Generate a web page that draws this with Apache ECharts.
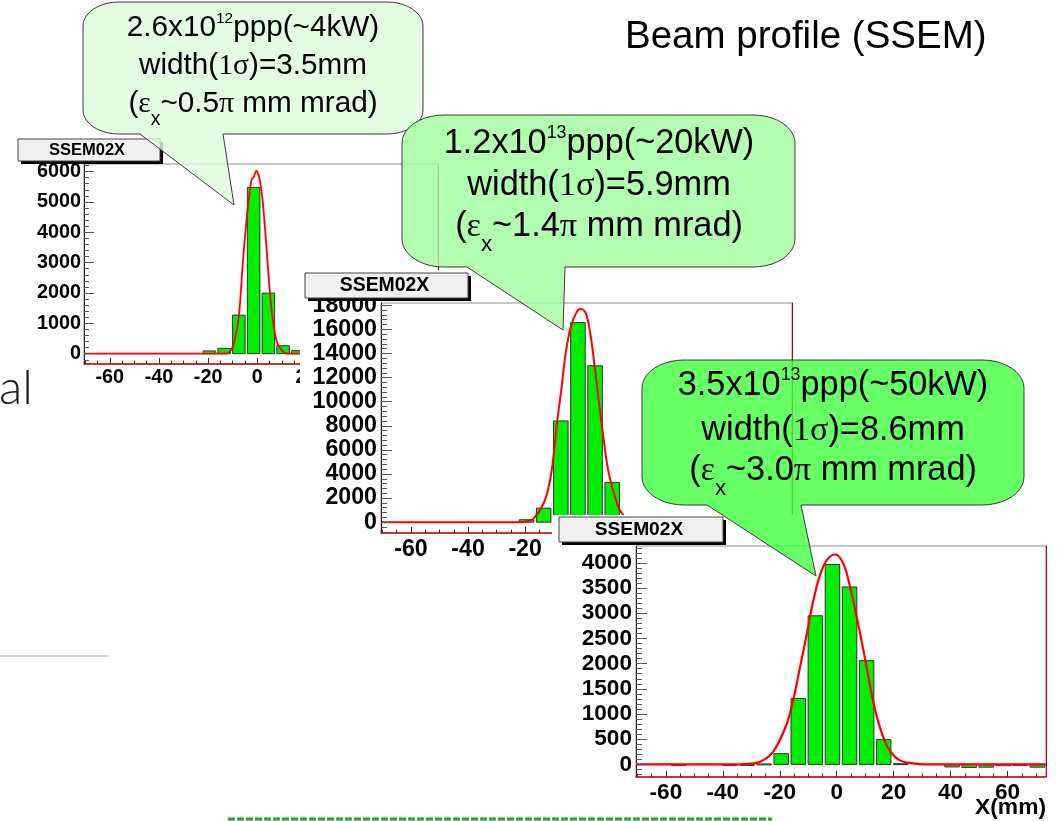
<!DOCTYPE html>
<html>
<head>
<meta charset="utf-8">
<title>Beam profile (SSEM)</title>
<script src="https://cdn.jsdelivr.net/npm/echarts@6.0.0/dist/echarts.min.js"></script>
<style>
  html, body { margin: 0; padding: 0; background: #fff; }
  #chart { width: 1059px; height: 821px; }
</style>
</head>
<body>
<div id="chart"></div>
<script>
// ---- data -------------------------------------------------------------
// SSEM strip centres (mm)
const stripX = [-67.5, -61.5, -55.5, -49.5, -43.5, -37.5, -31.5, -25.5, -19.5, -13.5, -7.5, -1.5,
                4.5, 10.5, 16.5, 22.5, 28.5, 34.5, 40.5, 46.5, 52.5, 58.5, 64.5, 70.5];

// Signal per strip for the three beam intensities
const countsLow  = [0, 0, 0, 0, 0, 0, 0, 0, 90, 175, 1270, 5480, 1995, 263, 100, 0, 0, 0, 0, 0, 0, 0, 0, 0];
const countsMid  = [0, 0, 0, 0, 0, 0, 0, 0, 200, 1165, 8400, 16560, 12980, 3300, 350, 30, 0, 0, 0, 0, 0, 0, 0, 0];
const countsHigh = [0, 0, -10, 0, 0, -8, -10, 10, 213, 1309, 2950, 3967, 3522, 2060, 492, 15, 0, 0, -50, -60, -55, -25, -10, -55];

// Gaussian fit curves
const fitLowX = [-70.5, -13, -11, -9.5, -7.5, -5.9, -4.1, -2.4, -1.4, -0.4, 0.7, 2.0, 3.4, 4.7, 6.1, 8.1, 10.8, 13, 73.5];
const fitLowY = [0, 0, 80, 350, 1230, 2980, 4630, 5720, 5830, 6030, 5830, 5175, 3860, 2430, 1230, 350, 45, 0, 0];

const fitMidX = [-70.5, -22, -19.5, -17.1, -13.6, -11.5, -10.1, -8.7, -7.2, -5.8, -4.0, -1.9, -0.4, 1.3, 3.0, 4.5, 5.9, 7.4, 9.1, 11.5, 13.2, 16, 18.5, 22, 73.5];
const fitMidY = [0, 0, 60, 277, 1525, 3189, 5407, 8458, 11231, 14004, 16222, 17470, 17692, 17331, 15390, 12617, 9844, 7071, 4298, 2080, 970, 250, 70, 0, 0];

const fitHighX = [-70.5, -36, -31.6, -26.9, -22.3, -17.6, -15.2, -12.9, -10.5, -8.2, -5.9, -3.5, -0.6, 2.3, 4.7, 7.0, 9.4, 11.7, 14.0, 16.4, 18.7, 22.2, 26.9, 31, 73.5];
const fitHighY = [0, 0, 13, 53, 252, 797, 1296, 1927, 2592, 3256, 3754, 4053, 4166, 3987, 3522, 2924, 2259, 1562, 963, 532, 266, 80, 20, 0, 0];

// Tick labels
const xMajorTicks = [-60, -40, -20, 0, 20, 40, 60];
const yMajorLow  = [0, 1000, 2000, 3000, 4000, 5000, 6000];
const yMajorMid  = [0, 2000, 4000, 6000, 8000, 10000, 12000, 14000, 16000, 18000];
const yMajorHigh = [0, 500, 1000, 1500, 2000, 2500, 3000, 3500, 4000];

// Beam conditions written in the callouts
const intensityMantissa = ['2.6', '1.2', '3.5'];
const intensityExponent = ['12', '13', '13'];
const beamPower = ['~4kW', '~20kW', '~50kW'];
const beamWidth = ['3.5', '5.9', '8.6'];
const emittance = ['0.5', '1.4', '3.0'];

const histTitle = 'SSEM02X';
const xTitle = 'X(mm)';
const pageTitle = 'Beam profile (SSEM)';
const sideText = 'al';

// ---- layout -----------------------------------------------------------
const SANS = 'Liberation Sans';
const SERIF = 'Liberation Serif';
const X_MIN = -70.5, X_MAX = 73.5;
const STRIP_FILL = 5.1;   // drawn bar width, mm

function ticksBetween(a, b, step) {
  const out = [];
  for (let v = a; v <= b + 1e-9; v += step) out.push(Math.round(v * 1000) / 1000);
  return out;
}
const xMinorTicks = ticksBetween(-70, 70, 5);

const panels = [
  { left: 84, top: 164, width: 354, height: 200, yMin: -340, yMax: 6250,
    yMajor: yMajorLow, yMinor: ticksBetween(-200, 6200, 200),
    font: 19.8, xMargin: 4, yMargin: 3, majorLen: 10, minorLen: 5,
    counts: countsLow, fitX: fitLowX, fitY: fitLowY, fitWidth: 1.8, smooth: 0.25, z: 0,
    box: { x: 18, y: 139, w: 142, h: 22, font: 16.5 } },
  { left: 381, top: 303, width: 411, height: 230, yMin: -900, yMax: 18190,
    yMajor: yMajorMid, yMinor: ticksBetween(-800, 18000, 400),
    font: 23.2, xMargin: 5, yMargin: 4, majorLen: 11, minorLen: 6,
    counts: countsMid, fitX: fitMidX, fitY: fitMidY, fitWidth: 2, smooth: 0.35, z: 10,
    bg: { x: 300, y: 270, w: 500, h: 292 },
    box: { x: 305, y: 273, w: 163, h: 25, font: 19.4 } },
  { left: 636, top: 546, width: 410, height: 231, yMin: -250, yMax: 4335,
    yMajor: yMajorHigh, yMinor: ticksBetween(-200, 4300, 100),
    font: 22.6, xMargin: 4, yMargin: 4, majorLen: 11, minorLen: 6,
    counts: countsHigh, fitX: fitHighX, fitY: fitHighY, fitWidth: 2.2, smooth: 0.35, z: 20,
    bg: { x: 552, y: 515, w: 507, h: 306 },
    box: { x: 559, y: 517, w: 164, h: 25, font: 19.2 } }
];

const callouts = [
  { x0: 83, y0: 2, x1: 423, y1: 134, baseL: 140, baseR: 223, tip: [234, 205], rx: 36, ry: 24,
    fill: 'rgba(221,251,219,0.8)', cx: 253, lines: [28, 66, 104], S: 29.7 },
  { x0: 402, y0: 115, x1: 795, y1: 267, baseL: 467, baseR: 565, tip: [563, 330], rx: 42, ry: 28,
    fill: 'rgba(160,253,158,0.8)', cx: 599, lines: [144, 186, 227], S: 34.3 },
  { x0: 642, y0: 360, x1: 1024, y1: 505, baseL: 707, baseR: 801, tip: [816, 576], rx: 42, ry: 28,
    fill: 'rgba(64,255,64,0.8)', cx: 833, lines: [386, 431, 471], S: 34.3 }
];

// ---- build chart ------------------------------------------------------
const grids = [], xAxes = [], yAxes = [], series = [], graphics = [];

function stripBar(params, api) {
  const x = api.value(0), v = api.value(1);
  const a = api.coord([x - STRIP_FILL / 2, 0]);
  const b = api.coord([x + STRIP_FILL / 2, v]);
  return {
    type: 'rect',
    shape: { x: a[0], y: Math.min(a[1], b[1]), width: b[0] - a[0], height: Math.max(1, Math.abs(b[1] - a[1])) },
    style: { fill: '#00ee00', stroke: '#333', lineWidth: 1 }
  };
}

panels.forEach(function (p) {
  const z = p.z;
  if (p.bg) {
    graphics.push({ type: 'rect', z: z, shape: { x: p.bg.x, y: p.bg.y, width: p.bg.w, height: p.bg.h },
      style: { fill: '#ffffff' } });
  }
  const g = grids.length;
  const pos = { left: p.left, top: p.top, width: p.width, height: p.height, containLabel: false, outerBoundsMode: 'none' };
  grids.push(Object.assign({ show: true, borderColor: '#8c8c8c', borderWidth: 1, backgroundColor: 'transparent', z: z + 1 }, pos));
  grids.push(Object.assign({ show: false, z: z + 4 }, pos));

  const labelStyle = { color: '#000', fontWeight: 'bold', fontSize: p.font, fontFamily: SANS,
    formatter: function (v) { return String(v); } };

  const xi = xAxes.length;
  xAxes.push({
    gridIndex: g, type: 'value', min: X_MIN, max: X_MAX, position: 'bottom', z: z + 4,
    axisLine: { show: true, onZero: false, lineStyle: { color: '#d80000', width: 1.5 } },
    axisTick: { show: true, inside: true, length: 6, customValues: xMajorTicks, lineStyle: { color: '#333', width: 1 } },
    axisLabel: Object.assign({ show: true, customValues: xMajorTicks, margin: p.xMargin }, labelStyle),
    splitLine: { show: false }
  });
  xAxes.push({
    gridIndex: g + 1, type: 'value', min: X_MIN, max: X_MAX, position: 'bottom', z: z + 4,
    axisLine: { show: false, onZero: false },
    axisTick: { show: true, inside: true, length: 3.5, customValues: xMinorTicks, lineStyle: { color: '#333', width: 1 } },
    axisLabel: { show: false }, splitLine: { show: false }
  });

  const yi = yAxes.length;
  yAxes.push({
    gridIndex: g, type: 'value', min: p.yMin, max: p.yMax, position: 'left', z: z + 4,
    axisLine: { show: true, onZero: false, lineStyle: { color: '#222', width: 1 } },
    axisTick: { show: true, inside: true, length: p.majorLen, customValues: p.yMajor, lineStyle: { color: '#555', width: 1 } },
    axisLabel: Object.assign({ show: true, customValues: p.yMajor, margin: p.yMargin }, labelStyle),
    splitLine: { show: false }
  });
  yAxes.push({
    gridIndex: g + 1, type: 'value', min: p.yMin, max: p.yMax, position: 'left', z: z + 4,
    axisLine: { show: false, onZero: false },
    axisTick: { show: true, inside: true, length: p.minorLen, customValues: p.yMinor, lineStyle: { color: '#555', width: 1 } },
    axisLabel: { show: false }, splitLine: { show: false }
  });
  yAxes.push({
    gridIndex: g + 1, type: 'value', min: p.yMin, max: p.yMax, position: 'right', z: z + 4,
    axisLine: { show: true, onZero: false, lineStyle: { color: '#b00000', width: 1 } },
    axisTick: { show: false }, axisLabel: { show: false }, splitLine: { show: false }
  });

  const barData = [];
  stripX.forEach(function (x, i) { if (p.counts[i] !== 0) barData.push([x, p.counts[i]]); });
  series.push({
    name: histTitle, type: 'custom', coordinateSystem: 'cartesian2d',
    xAxisIndex: xi, yAxisIndex: yi, data: barData, renderItem: stripBar,
    clip: true, silent: true, z: z + 2
  });
  series.push({
    name: histTitle + ' fit', type: 'line', xAxisIndex: xi, yAxisIndex: yi,
    data: p.fitX.map(function (x, i) { return [x, p.fitY[i]]; }),
    showSymbol: false, symbol: 'none', smooth: p.smooth, clip: true, silent: true,
    lineStyle: { color: '#ff0000', width: p.fitWidth }, z: z + 3
  });

  // histogram title pave with drop shadow
  const b = p.box;
  graphics.push({ type: 'rect', z: z + 5, shape: { x: b.x + 3, y: b.y + 3, width: b.w, height: b.h }, style: { fill: '#000' } });
  graphics.push({ type: 'rect', z: z + 6, shape: { x: b.x, y: b.y, width: b.w, height: b.h },
    style: { fill: '#f0f0f0', stroke: '#444', lineWidth: 1 } });
  graphics.push({ type: 'text', z: z + 7, x: b.x + b.w / 2 - 2, y: b.y + b.h / 2 + 0.5,
    style: { text: histTitle, fill: '#000', font: 'bold ' + b.font + 'px ' + SANS,
      align: 'center', verticalAlign: 'middle', textAlign: 'center', textVerticalAlign: 'middle' } });
});

// ---- speech-bubble callouts -------------------------------------------
// outline as a polygon: rounded body with elliptical corners plus a wedge
function bubblePoints(c) {
  const pts = [];
  const N = 10;
  function corner(cx, cy, a0, a1) {
    for (let k = 0; k <= N; k++) {
      const t = a0 + (a1 - a0) * k / N;
      pts.push([cx + c.rx * Math.cos(t), cy + c.ry * Math.sin(t)]);
    }
  }
  const P = Math.PI;
  corner(c.x0 + c.rx, c.y0 + c.ry, P, 1.5 * P);          // top-left
  corner(c.x1 - c.rx, c.y0 + c.ry, 1.5 * P, 2 * P);      // top-right
  corner(c.x1 - c.rx, c.y1 - c.ry, 0, 0.5 * P);          // bottom-right
  pts.push([c.baseR, c.y1]);
  pts.push([c.tip[0], c.tip[1]]);
  pts.push([c.baseL, c.y1]);
  corner(c.x0 + c.rx, c.y1 - c.ry, 0.5 * P, P);          // bottom-left
  return pts;
}

// one line of mixed-font text, centred on cx; 'sup' / 'sub' runs are raised / lowered
const measureCtx = document.createElement('canvas').getContext('2d');
function fontOf(size, family) { return size.toFixed(2) + 'px "' + family + '"'; }
function widthOf(text, font) { measureCtx.font = font; return measureCtx.measureText(text).width; }

function layoutLine(runs, cx, y, S, z) {
  const items = runs.map(function (r) {
    const size = S * (r.scale || 1);
    const font = fontOf(size, r.family || SANS);
    return { text: r.text, font: font, size: size, role: r.role, w: widthOf(r.text, font) };
  });
  const total = items.reduce(function (s, it) { return s + it.w; }, 0);
  let x = cx - total / 2;
  items.forEach(function (it) {
    let dy = 0;
    if (it.role === 'sup') dy = -0.47 * S + 0.37 * it.size - 1;
    else if (it.role === 'sub') dy = 0.3465 * S + 0.40 * S - 0.3465 * it.size;
    graphics.push({ type: 'text', z: z, x: x, y: y + dy,
      style: { text: it.text, font: it.font, fill: '#000',
        align: 'left', verticalAlign: 'middle', textAlign: 'left', textVerticalAlign: 'middle' } });
    x += it.w;
  });
}

callouts.forEach(function (c, i) {
  graphics.push({ type: 'polygon', z: 30, shape: { points: bubblePoints(c) },
    style: { fill: c.fill, stroke: '#3a3a3a', lineWidth: 1 } });
  const lines = [
    [ { text: intensityMantissa[i] + 'x10' },
      { text: intensityExponent[i], scale: 0.52, role: 'sup' },
      { text: 'ppp(' + beamPower[i] + ')' } ],
    [ { text: 'width(' },
      { text: '1\u03c3', family: SERIF },
      { text: ')=' + beamWidth[i] + 'mm' } ],
    [ { text: '(' },
      { text: '\u03b5', family: SERIF },
      { text: 'x', scale: 0.65, role: 'sub' },
      { text: '~' + emittance[i] },
      { text: '\u03c0', family: SERIF },
      { text: ' mm mrad)' } ]
  ];
  lines.forEach(function (runs, k) { layoutLine(runs, c.cx, c.lines[k], c.S, 31); });
});

// ---- page texts and rules ----------------------------------------------
graphics.push({ type: 'text', z: 40, x: 1046, y: 808,
  style: { text: xTitle, fill: '#000', font: 'bold 22.8px ' + SANS,
    align: 'right', verticalAlign: 'middle', textAlign: 'right', textVerticalAlign: 'middle' } });
graphics.push({ type: 'text', z: 40, x: 625, y: 37.5,
  style: { text: pageTitle, fill: '#000', font: '38.5px ' + SANS,
    align: 'left', verticalAlign: 'middle', textAlign: 'left', textVerticalAlign: 'middle' } });
graphics.push({ type: 'text', z: 40, x: -1, y: 389,
  style: { text: sideText, fill: '#1a1a1a', font: '300 48px Lato',
    align: 'left', verticalAlign: 'middle', textAlign: 'left', textVerticalAlign: 'middle' } });
graphics.push({ type: 'line', z: 40, shape: { x1: 0, y1: 656, x2: 108, y2: 656 },
  style: { stroke: '#c4c4c4', lineWidth: 1.5 } });
graphics.push({ type: 'line', z: 40, shape: { x1: 228, y1: 819, x2: 772, y2: 819 },
  style: { stroke: '#2ca02c', lineWidth: 3, lineDash: [7, 2] } });

const chart = echarts.init(document.getElementById('chart'), null, { renderer: 'canvas' });
chart.setOption({
  animation: false,
  backgroundColor: '#ffffff',
  grid: grids,
  xAxis: xAxes,
  yAxis: yAxes,
  series: series,
  graphic: graphics
});
</script>
</body>
</html>
